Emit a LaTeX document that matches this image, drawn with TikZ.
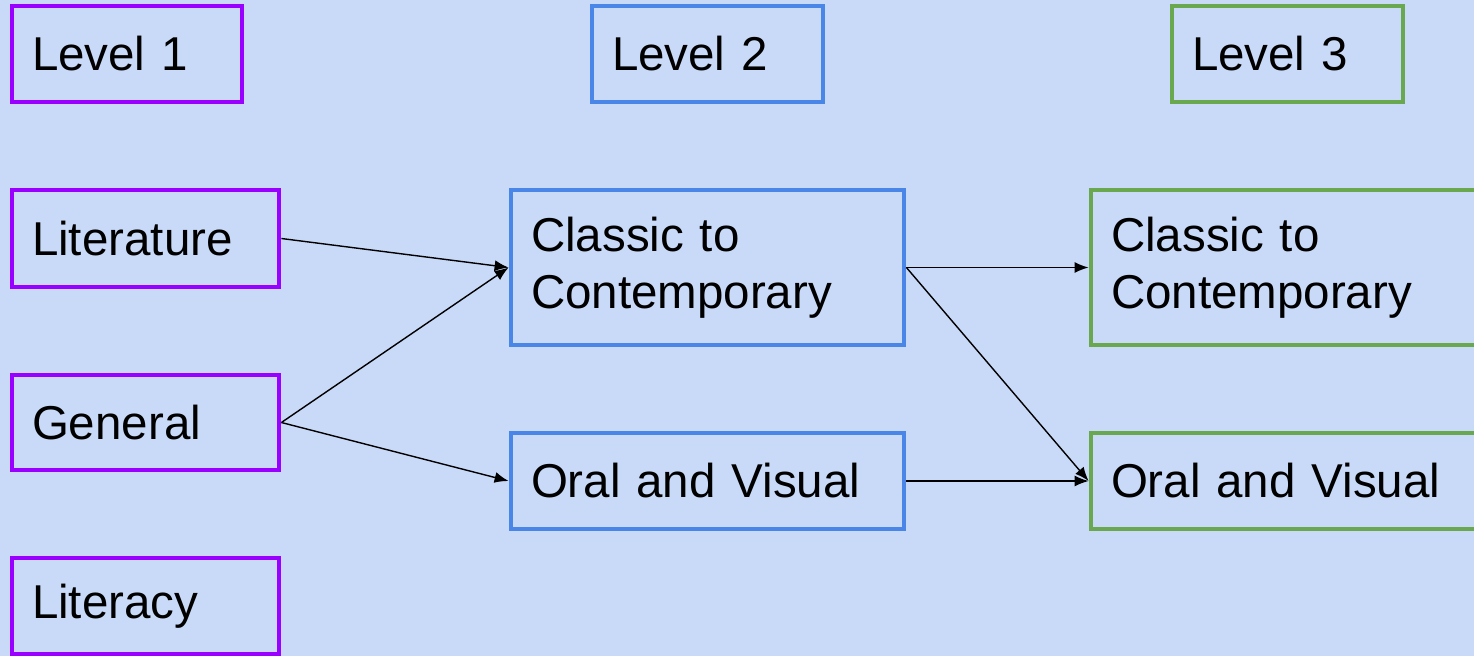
\documentclass[tikz,border=0pt]{standalone}
\usepackage{fontspec}
\setmainfont{Liberation Sans}
\usetikzlibrary{arrows.meta}
\definecolor{bg}{HTML}{C9DAF8}
\definecolor{lvone}{HTML}{9900FF}
\definecolor{lvtwo}{HTML}{4A86E8}
\definecolor{lvthree}{HTML}{6AA84F}
\tikzset{
  px/.style={x=1pt,y=-1pt},
  boxnode/.style={draw, line width=4.8pt, rectangle, inner sep=0pt, align=left,
    font=\fontsize{47.5}{57}\selectfont},
  onebox/.style={boxnode, draw=lvone},
  twobox/.style={boxnode, draw=lvtwo},
  threebox/.style={boxnode, draw=lvthree},
  conn/.style={line width=1.4pt, -{Latex[length=14pt,width=11pt]}}
}
\newcommand{\mybox}[7]{% style, name, x1, y1, x2, y2, text
  \node[#1, minimum width={#5-#3}, minimum height={#6-#4}, text width={#5-#3-40}]
    (#2) at ({(#3+#5)/2},{(#4+#6)/2}) {#7};}
\begin{document}
\begin{tikzpicture}[px]
\useasboundingbox (0,0) rectangle (1474,656);
\fill[bg] (0,0) rectangle (1474,656);
\clip (0,0) rectangle (1474,656);
\mybox{onebox}{l1}{12}{6}{242}{102}{Level 1}
\mybox{twobox}{l2}{592}{6}{823}{102}{Level 2}
\mybox{threebox}{l3}{1172}{6}{1403}{102}{Level 3}
\mybox{onebox}{lit}{12}{190}{279}{287}{Literature}
\mybox{onebox}{gen}{12}{375}{279}{470}{General}
\mybox{onebox}{lcy}{12}{558}{279}{654}{Literacy}
\mybox{twobox}{cl2}{511}{190}{904}{345}{Classic to\\Contemporary}
\mybox{twobox}{or2}{511}{433}{904}{529}{Oral and Visual}
\mybox{threebox}{cl3}{1091}{190}{1490}{345}{Classic to\\Contemporary}
\mybox{threebox}{or3}{1091}{433}{1490}{529}{Oral and Visual}
\draw[conn] (lit.east) -- (cl2.west);
\draw[conn] (gen.east) -- (cl2.west);
\draw[conn] (gen.east) -- (or2.west);
\draw[conn] (cl2.east) -- (cl3.west);
\draw[conn] (cl2.east) -- (or3.west);
\draw[conn] (or2.east) -- (or3.west);
\end{tikzpicture}
\end{document}
